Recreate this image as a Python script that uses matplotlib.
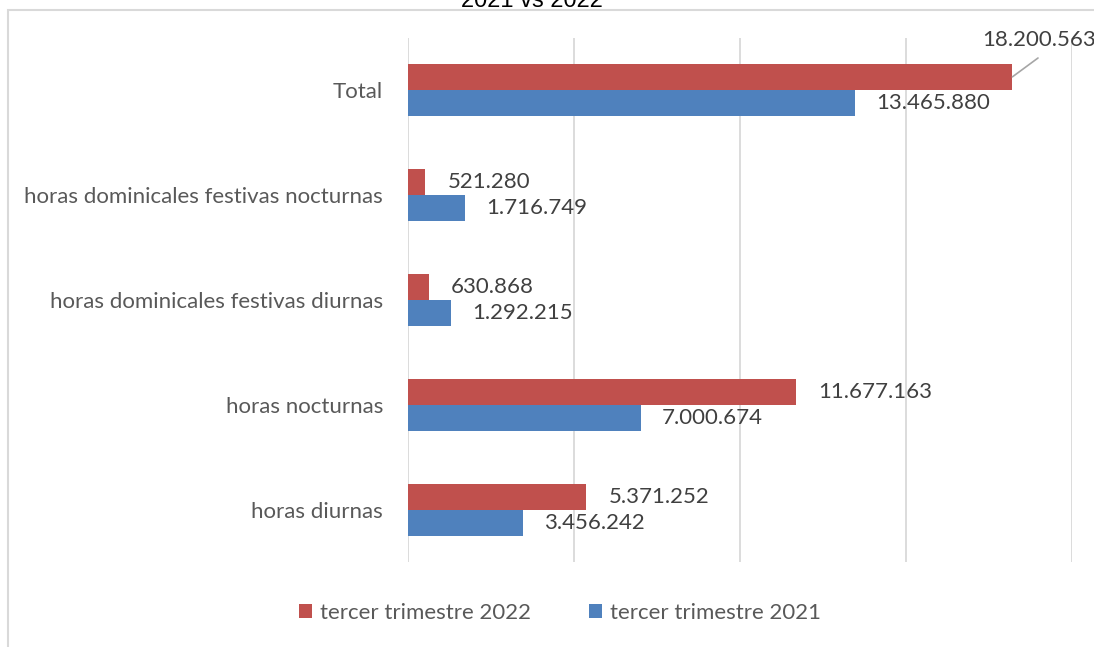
import numpy as np
import matplotlib.pyplot as plt
from matplotlib.patches import Rectangle
from matplotlib.ticker import MultipleLocator

plt.rcParams['font.family'] = ['Lato', 'DejaVu Sans']

categorias = ['horas diurnas', 'horas nocturnas', 'horas dominicales festivas diurnas',
              'horas dominicales festivas nocturnas', 'Total']
t2022 = np.array([5371252, 11677163, 630868, 521280, 18200563])
t2021 = np.array([3456242, 7000674, 1292215, 1716749, 13465880])
etiquetas_2022 = ['5.371.252', '11.677.163', '630.868', '521.280', '18.200.563']
etiquetas_2021 = ['3.456.242', '7.000.674', '1.292.215', '1.716.749', '13.465.880']

rojo = '#C0504D'
azul = '#4F81BD'
W, H = 1094, 647

fig = plt.figure(figsize=(W / 100, H / 100), dpi=100)
ax = fig.add_axes([0.373, 0.131, 0.607, 0.811])

# marco del area del grafico
fig.patches.append(Rectangle((8 / W, -0.1), 1.2, 1 - 10 / H + 0.1,
                             transform=fig.transFigure, fill=False,
                             edgecolor='#D9D9D9', linewidth=1.5))
fig.text(532 / W, 1 - 1 / H, '2021 vs 2022', ha='center', va='center',
         fontsize=17, family='Liberation Sans', color='#000000')

idx = np.arange(len(categorias))
h = 0.25
ax.barh(idx + h / 2, t2022, h, color=rojo, label='tercer trimestre 2022', zorder=3)
ax.barh(idx - h / 2, t2021, h, color=azul, label='tercer trimestre 2021', zorder=3)

ax.set_xlim(0, 20000000)
ax.set_ylim(-0.5, len(categorias) - 0.5)
ax.xaxis.set_major_locator(MultipleLocator(5000000))
ax.grid(axis='x', color='#D9D9D9', linewidth=1.3, zorder=0)
ax.set_xticklabels([])
ax.tick_params(axis='both', length=0)
ax.tick_params(axis='y', labelsize=16, labelcolor='#595959', pad=18)
ax.set_yticks(idx)
ax.set_yticklabels(categorias)
for s in ax.spines.values():
    s.set_visible(False)

lab_kw = dict(fontsize=16, color='#404040', va='center', ha='left')
for i in range(len(categorias)):
    if categorias[i] == 'Total':
        fig.text(1 + 2 / W, 1 - 40 / H, etiquetas_2022[i], ha='right', va='center',
                 fontsize=16, color='#404040')
        ax.annotate('', xy=(t2022[i], i + h / 2), xytext=(1038 / W, 1 - 58 / H),
                    textcoords='figure fraction',
                    arrowprops=dict(arrowstyle='-', color='#A6A6A6', lw=1.2,
                                    shrinkA=0, shrinkB=0),
                    annotation_clip=False)
    else:
        ax.annotate(etiquetas_2022[i], xy=(t2022[i], i + h / 2), xytext=(16, 0),
                    textcoords='offset points', **lab_kw)
    ax.annotate(etiquetas_2021[i], xy=(t2021[i], i - h / 2), xytext=(15, 0),
                textcoords='offset points', **lab_kw)

fig.legend(loc='center', bbox_to_anchor=(560 / W, 1 - 613 / H), ncol=2, frameon=False,
           fontsize=16, labelcolor='#595959', handlelength=0.6, handleheight=0.6,
           handletextpad=0.35, columnspacing=2.6)

fig.savefig('out.png', dpi=100)
